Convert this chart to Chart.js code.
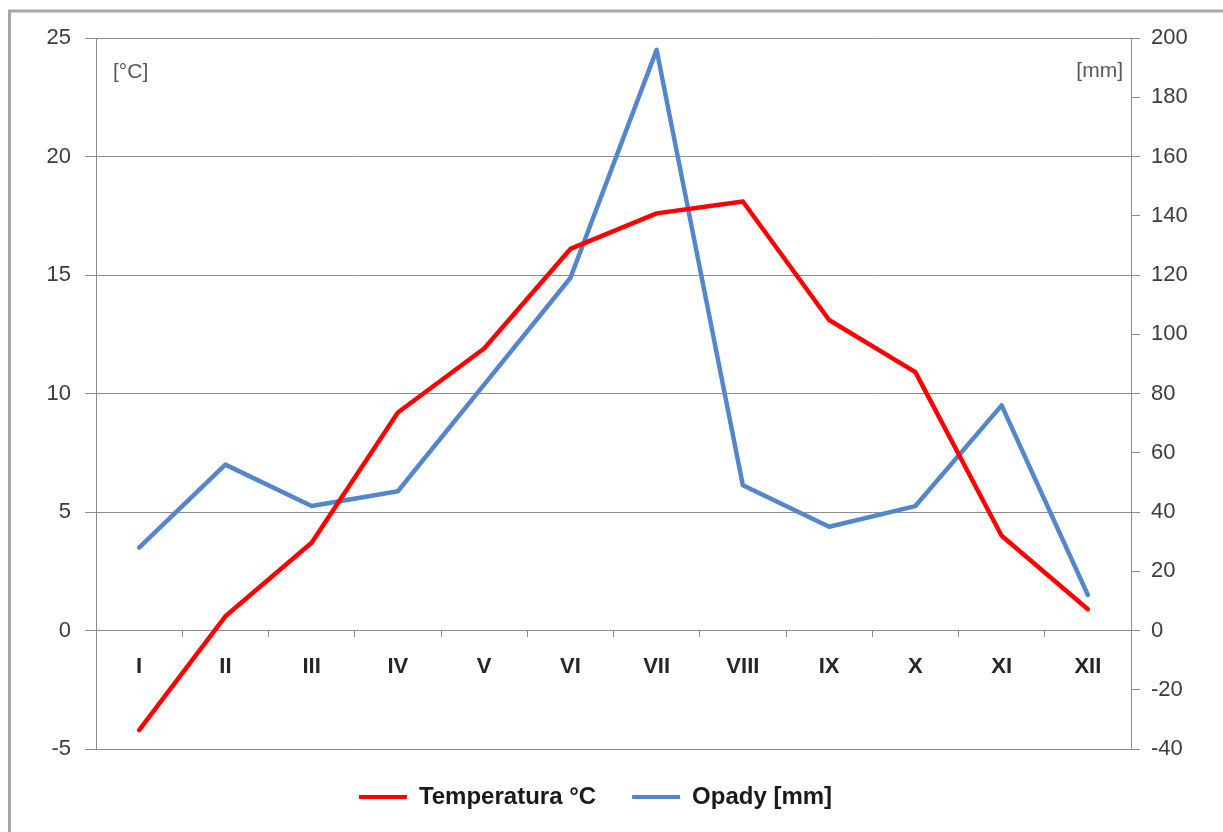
<!DOCTYPE html>
<html>
<head>
<meta charset="utf-8">
<script src="https://cdn.jsdelivr.net/npm/chart.js@4/dist/chart.umd.min.js"></script>
<style>
  html, body { margin: 0; padding: 0; background: #ffffff; }
  canvas { display: block; }
</style>
</head>
<body>
<canvas id="c" width="1223" height="832"></canvas>
<script>
// ---- data ----
const months = ['I', 'II', 'III', 'IV', 'V', 'VI', 'VII', 'VIII', 'IX', 'X', 'XI', 'XII'];
const temperature = [-4.2, 0.6, 3.7, 9.2, 11.9, 16.1, 17.6, 18.1, 13.1, 10.9, 4.0, 0.9];
const precipitation = [28, 56, 42, 47, 83, 119, 196, 49, 35, 42, 76, 12];
const seriesNames = ['Temperatura °C', 'Opady [mm]'];
const unitLabels = ['[°C]', '[mm]'];
const tempRange = { min: -5, max: 25, step: 5 };
const precRange = { min: -40, max: 200, step: 20 };

const GRID = '#8c8c8c';
const TICK_FONT = { family: 'Liberation Sans', size: 22 };

const framePlugin = {
  id: 'frame',
  beforeDraw(chart) {
    const ctx = chart.ctx;
    ctx.save();
    ctx.fillStyle = '#ffffff';
    ctx.fillRect(0, 0, chart.width, chart.height);
    ctx.strokeStyle = '#a6a6a6';
    ctx.lineWidth = 3;
    ctx.beginPath();
    ctx.moveTo(9.5, chart.height);
    ctx.lineTo(9.5, 11);
    ctx.lineTo(chart.width, 11);
    ctx.stroke();
    ctx.restore();
  },
  afterDraw(chart) {
    const ctx = chart.ctx;
    const a = chart.chartArea;
    ctx.save();
    ctx.font = '21px "Liberation Sans"';
    ctx.fillStyle = '#595959';
    ctx.textBaseline = 'middle';
    ctx.textAlign = 'left';
    ctx.fillText(unitLabels[0], a.left + 17, a.top + 34);
    ctx.textAlign = 'right';
    ctx.fillText(unitLabels[1], a.right - 8, a.top + 33);
    ctx.restore();
  }
};

new Chart(document.getElementById('c'), {
  type: 'line',
  data: {
    labels: months,
    datasets: [
      {
        label: seriesNames[0],
        data: temperature,
        yAxisID: 'y',
        borderColor: '#ff0000',
        backgroundColor: '#ff0000',
        borderWidth: 4.5,
        pointRadius: 0,
        tension: 0,
        borderJoinStyle: 'round',
        borderCapStyle: 'round'
      },
      {
        label: seriesNames[1],
        data: precipitation,
        yAxisID: 'y2',
        borderColor: '#5486cc',
        backgroundColor: '#5486cc',
        borderWidth: 4.5,
        pointRadius: 0,
        tension: 0,
        borderJoinStyle: 'round',
        borderCapStyle: 'round'
      }
    ]
  },
  options: {
    responsive: false,
    devicePixelRatio: 1,
    animation: false,
    layout: { padding: { top: 38, left: 0, right: 32, bottom: 13 } },
    plugins: {
      tooltip: { enabled: false },
      legend: {
        position: 'bottom',
        labels: {
          font: { family: 'Liberation Sans', size: 24, weight: 'bold' },
          color: '#1a1a1a',
          boxWidth: 48,
          boxHeight: 4,
          padding: 36,
          generateLabels(chart) {
            return Chart.defaults.plugins.legend.labels.generateLabels(chart).map(l => {
              l.lineWidth = 0;
              l.fillStyle = l.strokeStyle;
              return l;
            });
          }
        }
      }
    },
    scales: {
      x: {
        type: 'category',
        position: { y: 0 },
        offset: true,
        grid: {
          offset: true,
          drawOnChartArea: false,
          drawTicks: true,
          tickLength: 6,
          color: GRID
        },
        border: { display: true, color: GRID, width: 1 },
        ticks: {
          padding: 17,
          color: '#262626',
          font: { family: 'Liberation Sans', size: 22, weight: 'bold' },
          maxRotation: 0
        }
      },
      y: {
        position: 'left',
        min: tempRange.min,
        max: tempRange.max,
        afterFit(scale) { scale.width = 96; },
        ticks: {
          stepSize: tempRange.step,
          padding: 14,
          color: '#3c3c3c',
          font: TICK_FONT
        },
        grid: {
          color: GRID,
          lineWidth: 1,
          drawTicks: true,
          tickLength: 11
        },
        border: { display: true, color: GRID, width: 1 }
      },
      y2: {
        position: 'right',
        min: precRange.min,
        max: precRange.max,
        afterFit(scale) { scale.width = 60; },
        ticks: {
          stepSize: precRange.step,
          padding: 11,
          color: '#3c3c3c',
          font: TICK_FONT
        },
        grid: {
          drawOnChartArea: false,
          color: GRID,
          drawTicks: true,
          tickLength: 9
        },
        border: { display: true, color: GRID, width: 1 }
      }
    }
  },
  plugins: [framePlugin]
});
</script>
</body>
</html>
